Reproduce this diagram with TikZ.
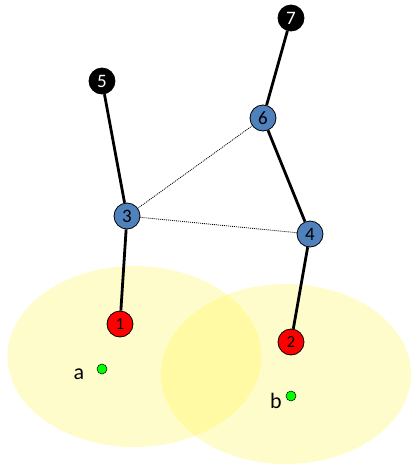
\documentclass[tikz,border=0pt]{standalone}
\usepackage{fontspec}
\setmainfont{Carlito}
\begin{document}
\begin{tikzpicture}[x=1pt,y=-1pt,
  vertex/.style={circle,draw=black,line width=0.8pt,minimum size=26pt,inner sep=0pt,font=\fontsize{19}{19}\selectfont},
  blackv/.style={vertex,fill=black,text=white},
  bluev/.style={vertex,fill=blueish},
  redv/.style={vertex,fill=red,font=\fontsize{17}{17}\selectfont},
  point/.style={circle,draw=black,line width=0.5pt,fill=green,minimum size=10pt,inner sep=0pt},
  tag/.style={font=\fontsize{22}{22}\selectfont},
  link/.style={line width=2.8pt},
  weak/.style={line width=0.8pt,dash pattern=on 1pt off 1pt},
  zone/.style={fill=yellow,fill opacity=0.2}]
\definecolor{blueish}{HTML}{4F81BD}
\useasboundingbox (0,0) rectangle (411,467);
% coverage areas
\fill[zone] (134.5,356.5) ellipse [x radius=127, y radius=90.5];
\fill[zone] (286,374) ellipse [x radius=125, y radius=90];
% vertices
\node[blackv] (n7) at (291,18) {7};
\node[blackv] (n5) at (102,81) {5};
\node[bluev] (n6) at (263,118) {6};
\node[bluev] (n3) at (127,216) {3};
\node[bluev] (n4) at (310,234) {4};
\node[redv] (n1) at (120,324) {1};
\node[redv] (n2) at (291,342) {2};
\node[point] (pa) at (102,369) {};
\node[point] (pb) at (291,396) {};
\node[tag] (la) at (79,374) {a};
\node[tag] (lb) at (276,401) {b};
% connections
\draw[link] (n7) -- (n6);
\draw[link] (n5) -- (n3);
\draw[link] (n6) -- (n4);
\draw[link] (n3) -- (n1);
\draw[link] (n4) -- (n2);
\draw[weak] (n3) -- (n6);
\draw[weak] (n3) -- (n4);
\end{tikzpicture}
\end{document}
